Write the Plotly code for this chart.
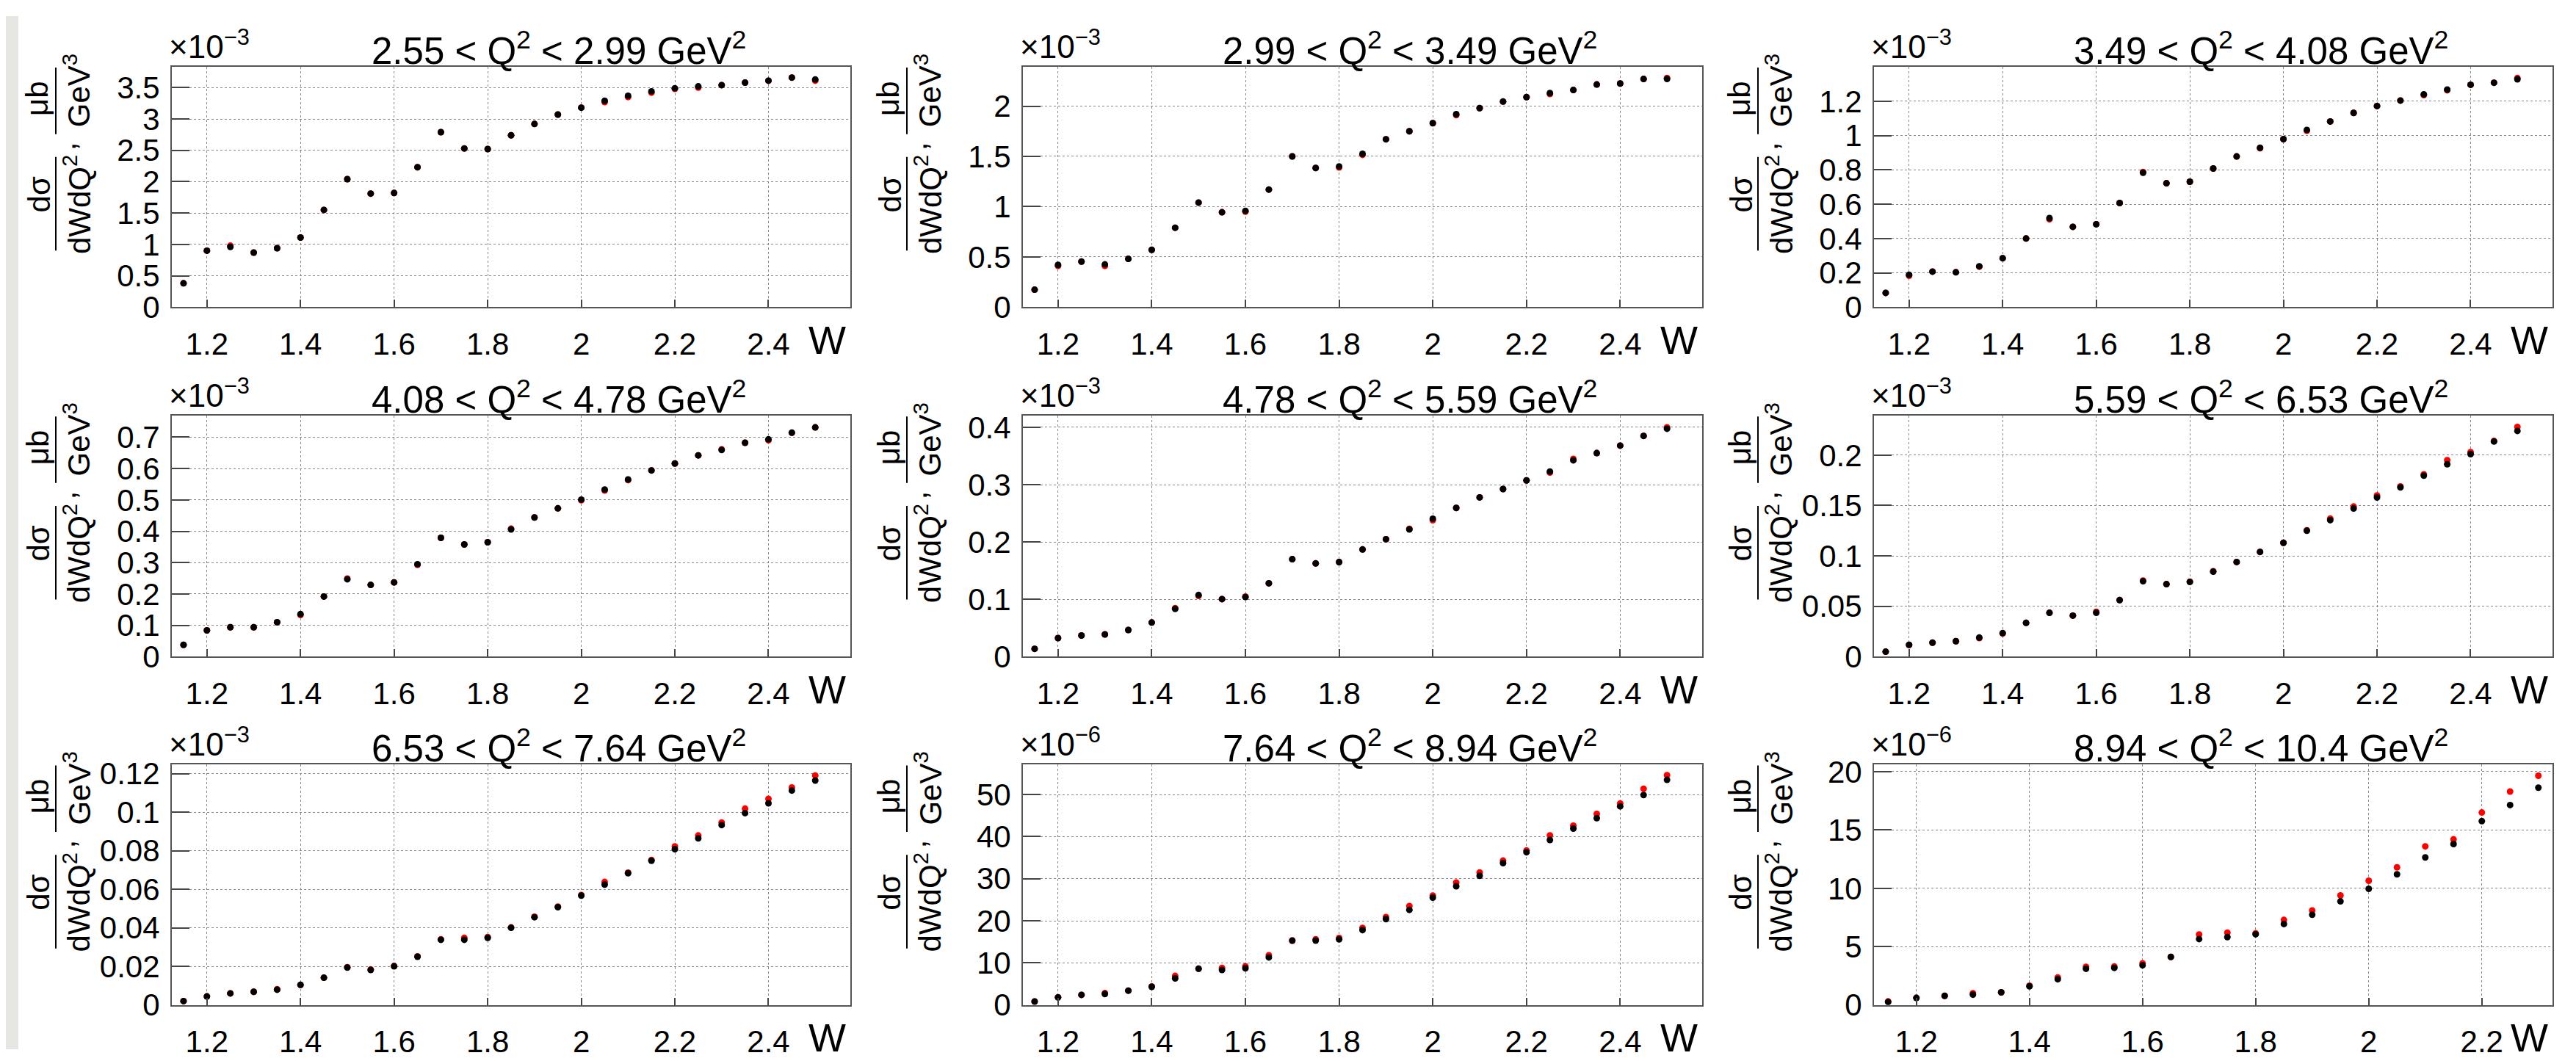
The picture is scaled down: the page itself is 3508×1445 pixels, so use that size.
import plotly.graph_objects as go

# ---------------- data ----------------
W = [1.15, 1.20, 1.25, 1.30, 1.35, 1.40, 1.45, 1.50, 1.55, 1.60, 1.65, 1.70, 1.75, 1.80,
     1.85, 1.90, 1.95, 2.00, 2.05, 2.10, 2.15, 2.20, 2.25, 2.30, 2.35, 2.40, 2.45, 2.50]
W9 = [1.15, 1.20, 1.25, 1.30, 1.35, 1.40, 1.45, 1.50, 1.55, 1.60, 1.65, 1.70, 1.75, 1.80,
      1.85, 1.90, 1.95, 2.00, 2.05, 2.10, 2.15, 2.20, 2.25, 2.30]

titles = ["2.55 &lt; Q<sup>2</sup> &lt; 2.99 GeV<sup>2</sup>",
          "2.99 &lt; Q<sup>2</sup> &lt; 3.49 GeV<sup>2</sup>",
          "3.49 &lt; Q<sup>2</sup> &lt; 4.08 GeV<sup>2</sup>",
          "4.08 &lt; Q<sup>2</sup> &lt; 4.78 GeV<sup>2</sup>",
          "4.78 &lt; Q<sup>2</sup> &lt; 5.59 GeV<sup>2</sup>",
          "5.59 &lt; Q<sup>2</sup> &lt; 6.53 GeV<sup>2</sup>",
          "6.53 &lt; Q<sup>2</sup> &lt; 7.64 GeV<sup>2</sup>",
          "7.64 &lt; Q<sup>2</sup> &lt; 8.94 GeV<sup>2</sup>",
          "8.94 &lt; Q<sup>2</sup> &lt; 10.4 GeV<sup>2</sup>"]
multipliers = ["×10<sup>−3</sup>"] * 7 + ["×10<sup>−6</sup>"] * 2

# black (measured) series, in units of the multiplier
black1 = [0.38, 0.90, 0.96, 0.87, 0.94, 1.11, 1.55, 2.04, 1.81, 1.82, 2.23, 2.79, 2.53, 2.52,
          2.74, 2.92, 3.07, 3.18, 3.29, 3.37, 3.44, 3.49, 3.52, 3.54, 3.58, 3.61, 3.66, 3.63]
black2 = [0.173, 0.42, 0.453, 0.425, 0.48, 0.57, 0.79, 1.04, 0.944, 0.958, 1.17, 1.50, 1.385, 1.40,
          1.525, 1.67, 1.75, 1.83, 1.92, 1.98, 2.045, 2.09, 2.13, 2.16, 2.215, 2.225, 2.27, 2.27]
black3 = [0.083, 0.189, 0.207, 0.203, 0.238, 0.285, 0.40, 0.519, 0.468, 0.483, 0.607, 0.783, 0.722, 0.731,
          0.808, 0.878, 0.929, 0.979, 1.033, 1.082, 1.132, 1.172, 1.204, 1.24, 1.268, 1.296, 1.308, 1.328]
black4 = [0.038, 0.084, 0.094, 0.094, 0.110, 0.136, 0.192, 0.247, 0.229, 0.237, 0.295, 0.379, 0.358, 0.365,
          0.406, 0.444, 0.473, 0.501, 0.533, 0.565, 0.594, 0.616, 0.642, 0.659, 0.682, 0.693, 0.714, 0.731]
black5 = [0.0138, 0.0325, 0.037, 0.039, 0.0467, 0.0596, 0.0834, 0.1076, 0.1005, 0.104, 0.128, 0.170, 0.1627, 0.165,
          0.187, 0.2048, 0.222, 0.2407, 0.2594, 0.2778, 0.2924, 0.3074, 0.3228, 0.3424, 0.355, 0.368, 0.385, 0.3975]
black6 = [0.005, 0.0118, 0.014, 0.0154, 0.019, 0.0235, 0.0336, 0.0436, 0.0408, 0.0436, 0.0562, 0.0749, 0.072, 0.0742,
          0.0844, 0.094, 0.104, 0.113, 0.125, 0.1355, 0.147, 0.158, 0.168, 0.1796, 0.191, 0.201, 0.2135, 0.224]
black7 = [0.002, 0.0044, 0.006, 0.0068, 0.0079, 0.0104, 0.0141, 0.0194, 0.0181, 0.020, 0.025, 0.0338, 0.0338, 0.0348,
          0.040, 0.0455, 0.0507, 0.0567, 0.0624, 0.0683, 0.0748, 0.0808, 0.0864, 0.0933, 0.0995, 0.1046, 0.1112, 0.1164]
black8 = [0.8, 1.8, 2.4, 2.6, 3.4, 4.3, 6.3, 8.6, 8.3, 8.7, 11.3, 15.3, 15.3, 15.6,
          17.8, 20.4, 22.6, 25.5, 28.2, 30.7, 33.7, 36.3, 39.2, 41.9, 44.4, 47.2, 49.9, 53.5]
black9 = [0.25, 0.6, 0.78, 0.88, 1.08, 1.6, 2.2, 3.1, 3.18, 3.4, 4.12, 5.65, 5.82, 6.06,
          6.94, 7.73, 8.88, 9.96, 11.2, 12.65, 13.8, 15.76, 17.14, 18.63]

# red (model) series
red1 = [0.38, 0.90, 0.98, 0.87, 0.94, 1.11, 1.55, 2.04, 1.81, 1.82, 2.23, 2.79, 2.53, 2.52,
        2.74, 2.92, 3.07, 3.18, 3.27, 3.35, 3.42, 3.48, 3.50, 3.54, 3.58, 3.61, 3.66, 3.61]
red2 = [0.173, 0.41, 0.453, 0.41, 0.48, 0.57, 0.79, 1.04, 0.944, 0.95, 1.17, 1.50, 1.385, 1.39,
        1.515, 1.67, 1.75, 1.83, 1.91, 1.98, 2.045, 2.09, 2.12, 2.16, 2.215, 2.225, 2.27, 2.28]
red3 = [0.083, 0.183, 0.207, 0.203, 0.236, 0.285, 0.40, 0.512, 0.468, 0.483, 0.607, 0.788, 0.722, 0.731,
        0.808, 0.878, 0.926, 0.979, 1.028, 1.082, 1.132, 1.172, 1.204, 1.236, 1.264, 1.296, 1.308, 1.335]
red4 = [0.038, 0.084, 0.094, 0.094, 0.110, 0.133, 0.192, 0.249, 0.229, 0.237, 0.293, 0.379, 0.358, 0.365,
        0.408, 0.444, 0.473, 0.499, 0.530, 0.563, 0.594, 0.616, 0.642, 0.661, 0.682, 0.690, 0.714, 0.731]
red5 = [0.0138, 0.0325, 0.037, 0.039, 0.0467, 0.0596, 0.0848, 0.106, 0.1005, 0.105, 0.128, 0.170, 0.1627, 0.165,
        0.187, 0.2048, 0.223, 0.238, 0.2594, 0.2778, 0.2924, 0.3074, 0.321, 0.345, 0.355, 0.368, 0.385, 0.400]
red6 = [0.005, 0.0118, 0.014, 0.0154, 0.0185, 0.0230, 0.0336, 0.0436, 0.0408, 0.0446, 0.0562, 0.0755, 0.072, 0.0745,
        0.0848, 0.094, 0.104, 0.113, 0.1255, 0.137, 0.149, 0.160, 0.169, 0.181, 0.195, 0.203, 0.2140, 0.228]
red7 = [0.002, 0.0044, 0.006, 0.0068, 0.0081, 0.0104, 0.0141, 0.0196, 0.0184, 0.0202, 0.0252, 0.0340, 0.0348, 0.0352,
        0.0402, 0.0458, 0.0510, 0.0570, 0.0638, 0.0686, 0.0752, 0.0822, 0.0879, 0.0946, 0.1018, 0.1069, 0.1128, 0.119]
red8 = [0.8, 1.8, 2.4, 2.8, 3.4, 4.4, 6.9, 8.6, 8.8, 9.2, 11.8, 15.3, 15.6, 15.9,
        18.3, 20.9, 23.5, 26.0, 29.1, 31.5, 34.3, 36.7, 40.3, 42.6, 45.4, 47.9, 51.4, 54.6]
red9 = [0.3, 0.6, 0.78, 1.0, 1.08, 1.65, 2.35, 3.27, 3.3, 3.57, 4.12, 6.04, 6.2, 6.14,
        7.29, 8.1, 9.39, 10.65, 11.8, 13.6, 14.2, 16.5, 18.3, 19.65]

black = [black1, black2, black3, black4, black5, black6, black7, black8, black9]
red = [red1, red2, red3, red4, red5, red6, red7, red8, red9]
wvals = [W] * 8 + [W9]

y_max = [3.83, 2.39, 1.40, 0.768, 0.42, 0.239, 0.1246, 57.1, 20.6]
x_ranges = [[1.125, 2.575]] * 8 + [[1.125, 2.325]]

y_ticks = [[0, 0.5, 1, 1.5, 2, 2.5, 3, 3.5],
           [0, 0.5, 1, 1.5, 2],
           [0, 0.2, 0.4, 0.6, 0.8, 1, 1.2],
           [0, 0.1, 0.2, 0.3, 0.4, 0.5, 0.6, 0.7],
           [0, 0.1, 0.2, 0.3, 0.4],
           [0, 0.05, 0.1, 0.15, 0.2],
           [0, 0.02, 0.04, 0.06, 0.08, 0.1, 0.12],
           [0, 10, 20, 30, 40, 50],
           [0, 5, 10, 15, 20]]
y_ticktext = [["0", "0.5", "1", "1.5", "2", "2.5", "3", "3.5"],
              ["0", "0.5", "1", "1.5", "2"],
              ["0", "0.2", "0.4", "0.6", "0.8", "1", "1.2"],
              ["0", "0.1", "0.2", "0.3", "0.4", "0.5", "0.6", "0.7"],
              ["0", "0.1", "0.2", "0.3", "0.4"],
              ["0", "0.05", "0.1", "0.15", "0.2"],
              ["0", "0.02", "0.04", "0.06", "0.08", "0.1", "0.12"],
              ["0", "10", "20", "30", "40", "50"],
              ["0", "5", "10", "15", "20"]]
x_ticks = [1.2, 1.4, 1.6, 1.8, 2.0, 2.2, 2.4]
x_ticktext = ["1.2", "1.4", "1.6", "1.8", "2", "2.2", "2.4"]

# ---------------- layout geometry (pixels) ----------------
FW, FH = 3508, 1445
col_px = [(226, 1150), (1385, 2310), (2544, 3468)]
row_px = [(71, 407), (559, 896), (1047, 1383)]
FONT = "Liberation Sans, Arial, Helvetica, sans-serif"


def px(x):
    return x / FW


def py(y):
    return 1 - y / FH


fig = go.Figure()
annotations = []
shapes = []

# grey side strips of the page
shapes.append(dict(type="rect", xref="paper", yref="paper", x0=0, x1=px(17), y0=0, y1=1,
                   fillcolor="#E8E6E2", line=dict(width=0), layer="below"))
shapes.append(dict(type="rect", xref="paper", yref="paper", x0=px(3493), x1=1, y0=0, y1=1,
                   fillcolor="#E8E6E2", line=dict(width=0), layer="below"))

for i in range(9):
    r, c = divmod(i, 3)
    L, R = col_px[c]
    T, B = row_px[r]
    xa = "x" if i == 0 else f"x{i+1}"
    ya = "y" if i == 0 else f"y{i+1}"
    xkey = "xaxis" if i == 0 else f"xaxis{i+1}"
    ykey = "yaxis" if i == 0 else f"yaxis{i+1}"

    fig.add_trace(go.Scatter(x=wvals[i], y=red[i], mode="markers", xaxis=xa, yaxis=ya,
                             marker=dict(color="#FF0000", size=9), showlegend=False))
    fig.add_trace(go.Scatter(x=wvals[i], y=black[i], mode="markers", xaxis=xa, yaxis=ya,
                             marker=dict(color="#000000", size=9), showlegend=False))

    fig.layout[xkey] = dict(domain=[px(L), px(R)], anchor=ya, range=x_ranges[i],
                            tickmode="array", tickvals=x_ticks, ticktext=x_ticktext,
                            ticks="inside", ticklen=10, tickwidth=2, tickcolor="#444",
                            showline=True, linecolor="#555", linewidth=2, mirror=True,
                            showgrid=True, gridcolor="#888", griddash="dot", gridwidth=1,
                            zeroline=False, ticklabelstandoff=12,
                            tickfont=dict(family=FONT, size=42, color="black"))
    fig.layout[ykey] = dict(domain=[py(B), py(T)], anchor=xa, range=[0, y_max[i]],
                            tickmode="array", tickvals=y_ticks[i], ticktext=y_ticktext[i],
                            ticks="inside", ticklen=24, tickwidth=2, tickcolor="#444",
                            showline=True, linecolor="#555", linewidth=2, mirror=True,
                            showgrid=True, gridcolor="#888", griddash="dot", gridwidth=1,
                            zeroline=False, ticklabelstandoff=6,
                            tickfont=dict(family=FONT, size=42, color="black"))

    # panel title
    annotations.append(dict(text=titles[i], xref="paper", yref="paper",
                            x=px(L + 0.57 * (R - L)), y=py(T - 26), xanchor="center", yanchor="middle",
                            showarrow=False, font=dict(family=FONT, size=51, color="black")))
    # multiplier
    annotations.append(dict(text=multipliers[i], xref="paper", yref="paper",
                            x=px(L - 6), y=py(T - 1), xanchor="left", yanchor="bottom",
                            showarrow=False, font=dict(family=FONT, size=44, color="black")))
    # W axis label
    annotations.append(dict(text="W", xref="paper", yref="paper",
                            x=px(R - 4), y=py(B + 46), xanchor="right", yanchor="middle",
                            showarrow=False, font=dict(family=FONT, size=54, color="black")))

    # y-axis title: dσ/dWdQ², μb/GeV³ (rotated)
    tf = dict(family=FONT, size=42, color="black")
    for txt, dx, dy in [("μb", -183, 44), ("GeV<sup>3</sup>", -129, 33), (",", -146, 111),
                        ("dσ", -181, 179), ("dWdQ<sup>2</sup>", -129, 193)]:
        annotations.append(dict(text=txt, xref="paper", yref="paper", x=px(L + dx), y=py(T + dy),
                                xanchor="center", yanchor="middle", textangle=-90,
                                showarrow=False, font=tf))
    for y0, y1 in [(1, 94), (126, 257)]:
        shapes.append(dict(type="line", xref="paper", yref="paper",
                           x0=px(L - 158), x1=px(L - 158), y0=py(T + y0), y1=py(T + y1),
                           line=dict(color="black", width=2)))

fig.update_layout(width=FW, height=FH, margin=dict(l=0, r=0, t=0, b=0),
                  paper_bgcolor="white", plot_bgcolor="white",
                  annotations=annotations, shapes=shapes,
                  font=dict(family=FONT, color="black"))

fig.write_html("out.html")
